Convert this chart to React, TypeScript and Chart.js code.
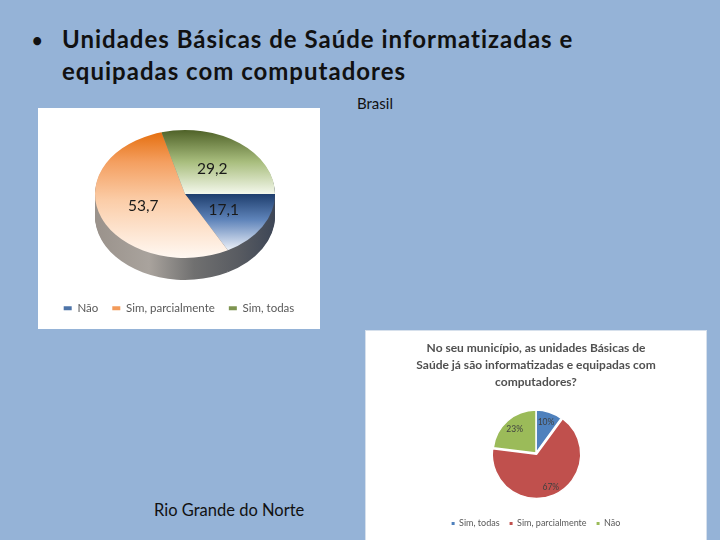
import React, { useEffect, useRef } from "react";
import { Chart, registerables } from "chart.js";
Chart.register(...registerables);

const BG = "#95B3D7";

const titleLines = ["Unidades Básicas de Saúde informatizadas e", "equipadas com computadores"];
const brasilCaption = "Brasil";
const rnCaption = "Rio Grande do Norte";

const brLabels = ["Não", "Sim, parcialmente", "Sim, todas"];
const brValues = [17.1, 53.7, 29.2];
const brValueLabels = ["17,1", "53,7", "29,2"];

const rnTitle = [
  "No seu município, as unidades Básicas de",
  "Saúde já são informatizadas e equipadas com",
  "computadores?",
];
const rnLabels = ["Sim, todas", "Sim, parcialmente", "Não"];
const rnValues = [10, 67, 23];

// styles
const brTopStops: [number, string][][] = [
  [[0, "#1E3E6D"], [0.45, "#5F84BA"], [1, "#F2F5FB"]],
  [[0, "#E46C0A"], [0.25, "#F49F60"], [0.55, "#FBCDA8"], [1, "#FFF8F2"]],
  [[0, "#4F6228"], [0.5, "#A9BE7E"], [1, "#F4F8EC"]],
];
const brGradRanges = [[0, 0.9], [-1, 1], [-1, 0]];
const brLegendColors = ["#4E74A8", "#F39B5A", "#7E9450"];
const brSideStops: [number, string][] = [
  [0, "#9A928B"], [0.3, "#A9A39D"], [0.55, "#707070"], [0.8, "#585B61"], [1, "#3D4656"],
];
const rnColors = ["#4F81BD", "#C0504D", "#9BBB59"];

const PIE_R = 90;
const K = 0.71;
const DEPTH = 22;
const TX = 147;
const TY = 86;

function center(chart: any) {
  const a = chart.chartArea;
  return { cx: (a.left + a.right) / 2, cy: (a.top + a.bottom) / 2 };
}

function brGrad(c: any) {
  const chart = c.chart;
  const i = c.dataIndex;
  if (!chart.chartArea || i === undefined) return brLegendColors[i ?? 0];
  const { cy } = center(chart);
  const [f0, f1] = brGradRanges[i];
  const g = chart.ctx.createLinearGradient(0, cy + f0 * PIE_R, 0, cy + f1 * PIE_R);
  brTopStops[i].forEach(([o, col]) => g.addColorStop(o, col));
  return g;
}

const pie3d = {
  id: "pie3d",
  beforeDatasetsDraw(chart: any) {
    const ctx = chart.ctx;
    const meta = chart.getDatasetMeta(0);
    const { cx, cy } = center(chart);
    const r = PIE_R;
    const side = ctx.createLinearGradient(cx - r, 0, cx + r, 0);
    brSideStops.forEach(([o, col]) => side.addColorStop(o, col));
    for (let d = DEPTH; d >= 1; d--) {
      ctx.save();
      ctx.translate(TX, TY + d);
      ctx.scale(1, K);
      ctx.translate(-cx, -cy);
      meta.data.forEach((arc: any) => {
        const proxy = Object.create(arc);
        proxy.options = { ...arc.options, backgroundColor: side, borderWidth: 0 };
        arc.draw.call(proxy, ctx);
      });
      ctx.restore();
    }
    ctx.save();
    ctx.translate(TX, TY);
    ctx.scale(1, K);
    ctx.translate(-cx, -cy);
  },
  afterDatasetsDraw(chart: any) {
    const ctx = chart.ctx;
    ctx.restore();
    const meta = chart.getDatasetMeta(0);
    const { cx, cy } = center(chart);
    ctx.save();
    ctx.font = "15.5px Lato";
    ctx.fillStyle = "#1a1a1a";
    ctx.textAlign = "center";
    ctx.textBaseline = "middle";
    meta.data.forEach((arc: any, i: number) => {
      const p = arc.getCenterPoint();
      ctx.fillText(brValueLabels[i], TX + (p.x - cx), TY + (p.y - cy) * K);
    });
    ctx.restore();
  },
};

const pctLabels = {
  id: "pctLabels",
  afterDatasetsDraw(chart: any) {
    const ctx = chart.ctx;
    const meta = chart.getDatasetMeta(0);
    const total = rnValues.reduce((a, b) => a + b, 0);
    ctx.save();
    ctx.font = "8.5px Lato";
    ctx.fillStyle = "#404040";
    ctx.textAlign = "center";
    ctx.textBaseline = "middle";
    meta.data.forEach((arc: any, i: number) => {
      const mid = (arc.startAngle + arc.endAngle) / 2;
      const d = arc.outerRadius * 0.75 + (arc.options.offset || 0);
      ctx.fillText(
        Math.round((rnValues[i] / total) * 100) + "%",
        arc.x + Math.cos(mid) * d,
        arc.y + Math.sin(mid) * d
      );
    });
    ctx.restore();
  },
};

function brConfig(): any {
  return {
    type: "pie",
    data: {
      labels: brLabels,
      datasets: [
        { data: brValues, backgroundColor: brGrad, borderWidth: 0, radius: PIE_R, clip: false },
      ],
    },
    options: {
      responsive: false,
      animation: false,
      devicePixelRatio: 1,
      rotation: 90,
      layout: { padding: { bottom: 5 } },
      plugins: {
        legend: {
          position: "bottom",
          labels: {
            boxWidth: 8,
            boxHeight: 4,
            padding: 14,
            color: "#595959",
            font: { family: "Lato", size: 11.5 },
            generateLabels: () =>
              brLabels.map((t, i) => ({
                text: t,
                fillStyle: brLegendColors[i],
                strokeStyle: brLegendColors[i],
                lineWidth: 0,
                hidden: false,
                index: i,
                fontColor: "#595959",
              })),
          },
        },
        tooltip: { enabled: false },
      },
    },
    plugins: [pie3d],
  };
}

function rnConfig(): any {
  return {
    type: "pie",
    data: {
      labels: rnLabels,
      datasets: [
        {
          data: rnValues,
          backgroundColor: rnColors,
          borderColor: "#ffffff",
          borderWidth: 1.5,
          offset: [0, 5, 0],
          radius: 43,
        },
      ],
    },
    options: {
      responsive: false,
      animation: false,
      devicePixelRatio: 1,
      layout: { padding: { bottom: 2 } },
      plugins: {
        title: {
          display: true,
          text: rnTitle,
          color: "#505050",
          font: { family: "Lato", size: 12, weight: "bold", lineHeight: 1.42 },
          padding: { top: 9, bottom: 6 },
        },
        legend: {
          position: "bottom",
          labels: {
            boxWidth: 3,
            boxHeight: 3,
            padding: 10,
            color: "#595959",
            font: { family: "Lato", size: 9 },
            generateLabels: () =>
              rnLabels.map((t, i) => ({
                text: t,
                fillStyle: rnColors[i],
                strokeStyle: rnColors[i],
                lineWidth: 0,
                hidden: false,
                index: i,
                fontColor: "#595959",
              })),
          },
        },
        tooltip: { enabled: false },
      },
    },
    plugins: [pctLabels],
  };
}

function ChartBox({ make, left, top, width, height, border }: any) {
  const ref = useRef<HTMLCanvasElement>(null);
  useEffect(() => {
    const c = new Chart(ref.current as HTMLCanvasElement, make());
    return () => c.destroy();
  }, []);
  const bw = border ? 1 : 0;
  return (
    <div
      style={{
        position: "absolute",
        left,
        top,
        width,
        height,
        background: "#ffffff",
        boxSizing: "border-box",
        border: border || "none",
      }}
    >
      <canvas
        ref={ref}
        width={width - 2 * bw}
        height={height - 2 * bw}
        style={{ display: "block", width: width - 2 * bw, height: height - 2 * bw }}
      />
    </div>
  );
}

export default function App() {
  return (
    <div
      style={{
        position: "absolute",
        left: 0,
        top: 0,
        width: 720,
        height: 540,
        background: BG,
        overflow: "hidden",
        fontFamily: "Lato, sans-serif",
        color: "#111",
      }}
    >
      <div style={{ position: "absolute", left: 32, top: 24, fontSize: 18, fontWeight: 700, lineHeight: "32px" }}>•</div>
      <div
        style={{
          position: "absolute",
          left: 62,
          top: 23,
          fontSize: 24,
          fontWeight: 700,
          lineHeight: "32px",
          letterSpacing: "1px",
          whiteSpace: "nowrap",
        }}
      >
        {titleLines.map((l, i) => (
          <div key={i}>{l}</div>
        ))}
      </div>
      <div style={{ position: "absolute", left: 357, top: 93, fontSize: 15, lineHeight: "20px" }}>{brasilCaption}</div>
      <ChartBox make={brConfig} left={38} top={108} width={282} height={221} />
      <ChartBox make={rnConfig} left={365} top={330} width={342} height={211} border="1px solid #D6E0EC" />
      <div style={{ position: "absolute", left: 154, top: 500, fontSize: 16.5, lineHeight: "20px" }}>{rnCaption}</div>
    </div>
  );
}
